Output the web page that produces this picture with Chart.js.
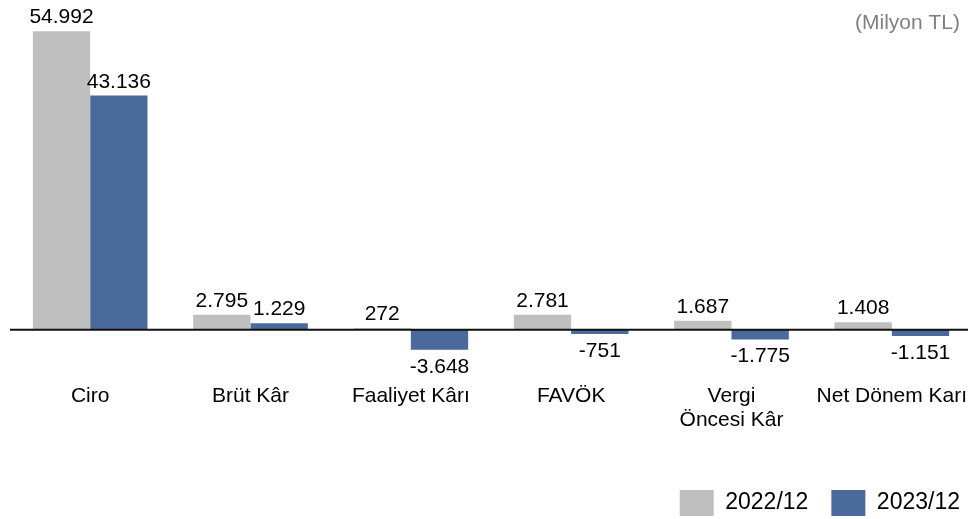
<!DOCTYPE html>
<html lang="tr">
<head>
<meta charset="utf-8">
<title>Finansal Özet</title>
<script src="https://cdn.jsdelivr.net/npm/chart.js@4.4.1/dist/chart.umd.min.js"></script>
<style>
  html, body { margin: 0; padding: 0; background: #fff; overflow: hidden; }
  #wrap { position: relative; width: 983px; height: 526px; }
</style>
</head>
<body>
<div id="wrap"><canvas id="finChart"></canvas></div>
<script>
// ── Data ──────────────────────────────────────────────────
const categories = ['Ciro', 'Brüt Kâr', 'Faaliyet Kârı', 'FAVÖK', ['Vergi', 'Öncesi Kâr'], 'Net Dönem Karı'];
const seriesNames = ['2022/12', '2023/12'];
const values2022 = [54992, 2795, 272, 2781, 1687, 1408];
const values2023 = [43136, 1229, -3648, -751, -1775, -1151];
const unitLabel = '(Milyon TL)';

const GRAY = '#BFBFBF';
const BLUE = '#4A6A9B';
const FONT = "'Liberation Sans', Arial, sans-serif";

Chart.defaults.font.family = FONT;
Chart.defaults.color = '#000';

function fmt(v) {
  const s = Math.abs(v).toString().replace(/\B(?=(\d{3})+(?!\d))/g, '.');
  return (v < 0 ? '-' : '') + s;
}

// ── Zero line + value labels + unit ───────────────────────
const overlay = {
  id: 'overlay',
  afterDatasetsDraw(chart) {
    const { ctx, chartArea, scales } = chart;
    const y0 = scales.y.getPixelForValue(0);
    ctx.save();
    ctx.strokeStyle = '#111';
    ctx.lineWidth = 2;
    ctx.beginPath();
    ctx.moveTo(chartArea.left, y0);
    ctx.lineTo(chartArea.right, y0);
    ctx.stroke();

    ctx.font = `21px ${FONT}`;
    ctx.fillStyle = '#000';
    ctx.textAlign = 'center';
    ctx.textBaseline = 'alphabetic';
    chart.data.datasets.forEach((ds, i) => {
      chart.getDatasetMeta(i).data.forEach((bar, j) => {
        const v = ds.data[j];
        const y = v >= 0 ? bar.y - 8 : bar.y + 23;
        ctx.fillText(fmt(v), bar.x, y);
      });
    });

    ctx.fillStyle = '#7F7F7F';
    ctx.textAlign = 'right';
    ctx.fillText(unitLabel, 960, 29);
    ctx.restore();
  }
};

new Chart(document.getElementById('finChart'), {
  type: 'bar',
  data: {
    labels: categories,
    datasets: [
      { label: seriesNames[0], data: values2022, backgroundColor: GRAY, borderWidth: 0 },
      { label: seriesNames[1], data: values2023, backgroundColor: BLUE, borderWidth: 0 }
    ]
  },
  options: {
    responsive: true,
    maintainAspectRatio: false,
    animation: false,
    layout: { padding: { top: 4, left: 10, right: 0, bottom: 0 } },
    datasets: { bar: { categoryPercentage: 0.715, barPercentage: 1.0 } },
    plugins: {
      tooltip: { enabled: false },
      legend: {
        position: 'bottom',
        align: 'end',
        labels: { boxWidth: 34, boxHeight: 26, padding: 23, color: '#000', font: { size: 23 } }
      }
    },
    scales: {
      x: {
        grid: { display: false, drawTicks: false },
        border: { display: false },
        ticks: { color: '#000', font: { size: 21, lineHeight: 1.15 }, padding: 27, autoSkip: false, maxRotation: 0 },
        afterFit: (s) => { s.height = 110; s.paddingLeft = 0; s.paddingRight = 0; }
      },
      y: {
        position: 'right',
        min: -5000,
        max: 60000,
        grid: { display: false, drawTicks: false },
        border: { display: false },
        ticks: { display: false },
        afterFit: (s) => { s.width = 11; }
      }
    }
  },
  plugins: [overlay]
});
</script>
</body>
</html>
